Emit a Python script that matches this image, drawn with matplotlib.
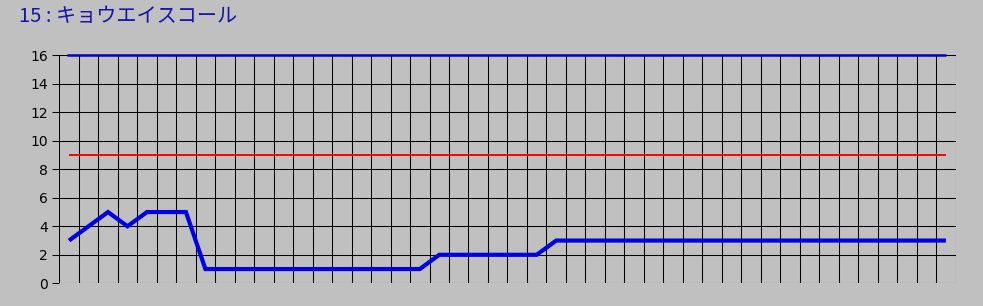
import matplotlib
matplotlib.use("Agg")
import matplotlib.pyplot as plt
import numpy as np

plt.rcParams['font.family'] = ['Noto Sans CJK JP', 'DejaVu Sans']

# data
title = "15 : キョウエイスコール"
values = [3, 4, 5, 4, 5, 5, 5, 1, 1, 1, 1, 1, 1, 1, 1, 1, 1, 1, 1,
          2, 2, 2, 2, 2, 2, 3, 3, 3, 3, 3, 3, 3, 3, 3, 3, 3, 3, 3,
          3, 3, 3, 3, 3, 3, 3, 3]
upper_line = 16
red_line = 9
yticks = [0, 2, 4, 6, 8, 10, 12, 14, 16]

n = len(values)
x = np.arange(n) + 0.5

bg = '#c0c0c0'
fig = plt.figure(figsize=(9.83, 3.06), dpi=100, facecolor=bg)
ax = fig.add_axes([0.0603, 0.0742, 0.9119, 0.7451], facecolor=bg)

# grid
for i in range(n + 1):
    ax.axvline(i, color='black', lw=0.75, zorder=1)
for y in yticks:
    ax.axhline(y, color='black', lw=0.75, zorder=1)

ax.plot([x[0] - 0.1, x[-1]], [upper_line, upper_line], color='#0000d0', lw=1.8,
        zorder=3, clip_on=False, solid_capstyle='butt')
ax.plot([x[0], x[-1]], [red_line, red_line], color='#ff0000', lw=1.4, zorder=3,
        solid_capstyle='butt')
ax.plot(x, values, color='#0000e6', lw=3.0, zorder=4, solid_joinstyle='miter',
        solid_capstyle='butt')

ax.set_xlim(0, n)
ax.set_ylim(0, 16)
ax.set_yticks(yticks)
ax.set_xticks([])
ax.tick_params(axis='y', length=5, width=0.75, color='black', labelsize=10, pad=3)
for lbl in ax.get_yticklabels():
    lbl.set_family(['DejaVu Sans'])
for s in ax.spines.values():
    s.set_visible(False)

fig.text(0.019, 0.945, title, color='#1414a8', fontsize=14.5, ha='left', va='center')

fig.savefig('out.png', dpi=100, facecolor=bg)
